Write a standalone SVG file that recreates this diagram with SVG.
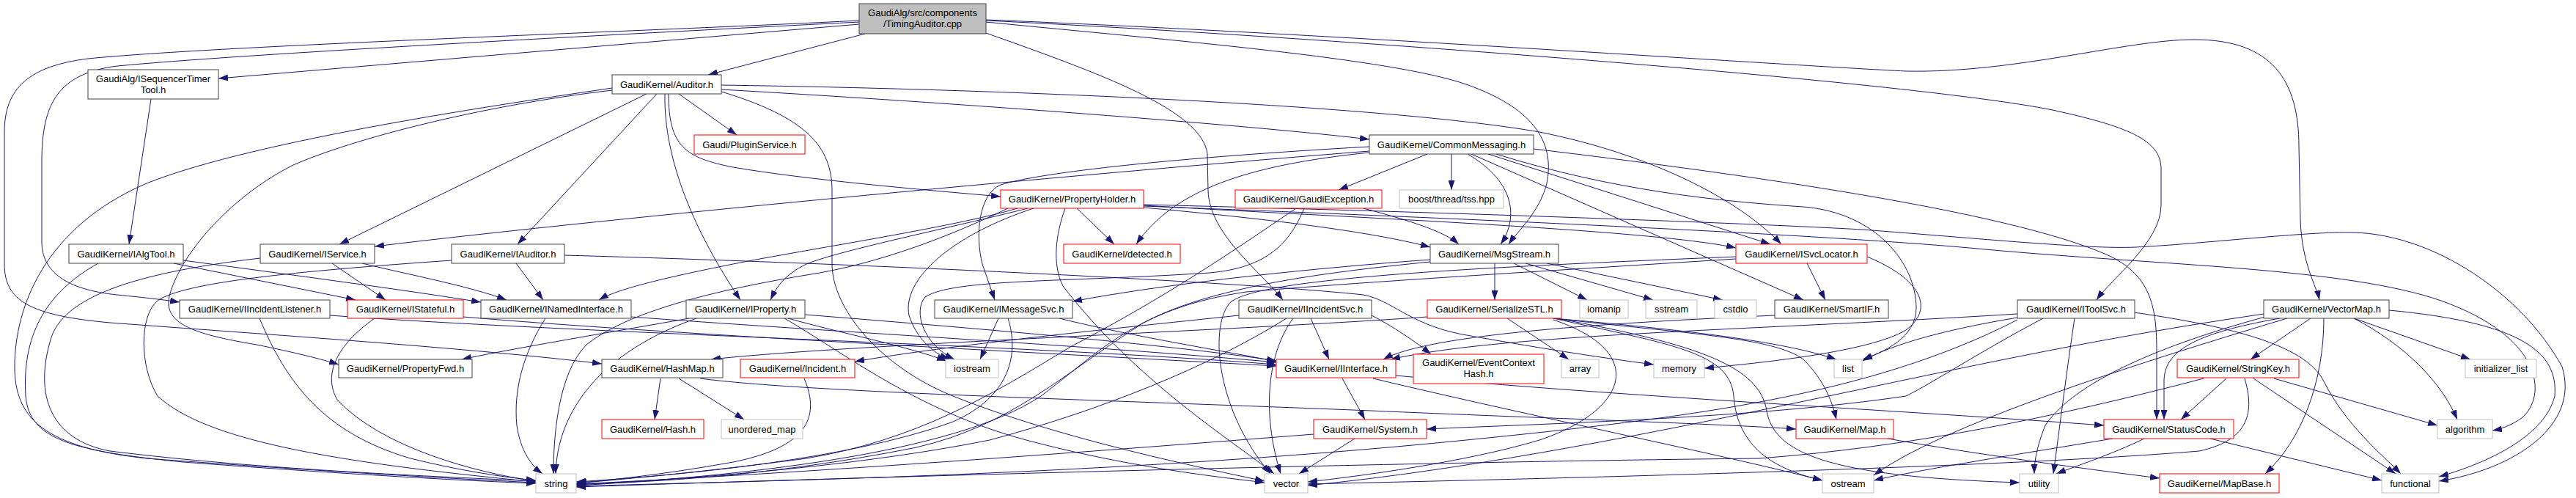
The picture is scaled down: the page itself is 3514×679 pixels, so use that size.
<svg xmlns="http://www.w3.org/2000/svg" width="3514" height="679" viewBox="0 0 3514 679">
<defs>
<marker id="ah" viewBox="0 0 13 9" refX="13" refY="4.5" markerWidth="13" markerHeight="9" markerUnits="userSpaceOnUse" orient="auto"><path d="M0,0 L13,4.5 L0,9 z" fill="#191970"/></marker>
<style>
.e path{fill:none;stroke:#191970;stroke-width:1;marker-end:url(#ah)}
rect{fill:#ffffff;stroke:#404040;stroke-width:1}
.r rect{stroke:#ff0000}
.g rect{stroke:#bfbfbf}
.root rect{fill:#bfbfbf}
text{font-family:"Liberation Sans",Arial,Helvetica,sans-serif;font-size:13px;fill:#000000;text-anchor:middle}
</style>
</defs>
<rect x="0" y="0" width="3514" height="679" style="fill:#ffffff;stroke:none"/>
<g id="edges" class="e">
<path d="M1172,33 L298,107"/>
<path d="M1180,46 L966,102"/>
<path d="M1172,28 C900,42 300,62 120,80 C40,90 6,120 6,180 L6,360 C6,410 40,430 150,440 C350,455 650,475 821,496"/>
<path d="M1172,30 C900,44 350,72 160,90 C80,100 57,140 57,220 L57,330 C57,370 90,395 160,402 C200,406 225,409 245,412"/>
<path d="M1345,45 C1500,100 1640,150 1647,210 L1648,260 C1650,320 1720,370 1750,409"/>
<path d="M1345,30 C1600,55 1900,80 2000,115 C2100,150 2120,200 2110,250 C2100,290 2070,315 2058,333"/>
<path d="M1345,28 C1800,50 2600,110 2800,150 C2900,172 2948,190 2948,230 L2948,280 C2948,330 2880,380 2860,409"/>
<path d="M1345,27 C1800,45 2450,90 2600,97 C2750,100 2900,54 2993,54 C3100,54 3136,110 3136,200 L3138,300 C3140,360 3160,390 3164,409"/>
<path d="M206,135 L176,333"/>
<path d="M984,122 C1300,140 1700,170 1868,190"/>
<path d="M984,116 C1400,122 1900,145 2100,180 C2250,210 2370,270 2430,333"/>
<path d="M896,128 L706,333"/>
<path d="M882,128 L463,333"/>
<path d="M907,128 C905,220 950,320 1010,409"/>
<path d="M926,128 L1005,184"/>
<path d="M912,128 C912,200 935,215 1000,228 C1100,245 1250,258 1365,268"/>
<path d="M984,125 C1100,160 1135,200 1135,260 L1135,360 C1135,420 1200,500 1300,540 C1450,600 1650,640 1725,656"/>
<path d="M835,120 C700,140 350,190 200,250 C60,310 20,420 20,500 C20,570 60,610 200,625 C400,640 600,652 731,658"/>
<path d="M835,123 C650,145 480,190 400,225 C320,265 250,340 232,400 C220,440 260,455 350,470 C400,480 440,490 462,497"/>
<path d="M1947,210 L1826,259"/>
<path d="M1980,210 L1980,259"/>
<path d="M2002,210 C2070,250 2070,300 2047,333"/>
<path d="M2007,210 L2460,409"/>
<path d="M2030,210 L2415,333"/>
<path d="M2092,203 C2400,240 2750,290 2880,350 C2935,378 2942,420 2942,480 L2942,572"/>
<path d="M1868,208 C1700,225 1600,260 1550,333"/>
<path d="M1868,200 C1600,215 1420,235 1365,252 C1335,265 1330,320 1340,360 L1357,409"/>
<path d="M1868,206 C1500,235 850,295 511,336"/>
<path d="M2041,210 C2200,260 2350,275 2460,282 C2560,290 2614,360 2614,420 C2614,460 2570,480 2541,490"/>
<path d="M250,355 C400,375 550,395 656,412"/>
<path d="M237,359 L485,409"/>
<path d="M134,359 C60,400 30,460 35,540 C40,600 100,615 250,630 C450,645 620,655 731,659"/>
<path d="M494,359 C560,375 640,390 691,409"/>
<path d="M453,359 L526,409"/>
<path d="M355,352 C200,370 90,400 70,460 C45,540 70,600 150,615 C350,640 600,650 731,656"/>
<path d="M704,359 L741,409"/>
<path d="M616,355 C400,370 250,385 215,410 C190,430 190,500 215,540 C280,600 450,630 731,657"/>
<path d="M770,348 C1200,360 1700,385 1860,402 C1900,410 1920,440 1990,455 C2100,475 2200,490 2256,497"/>
<path d="M450,430 C800,455 1400,470 1741,497"/>
<path d="M354,434 C390,520 440,590 560,625 C620,640 680,650 731,655"/>
<path d="M632,432 C900,455 1400,480 1741,499"/>
<path d="M511,434 C460,470 440,510 460,545 C520,610 650,645 731,656"/>
<path d="M861,432 C1100,450 1500,472 1741,494"/>
<path d="M744,434 C715,480 700,530 705,580 C710,615 725,635 740,646"/>
<path d="M1098,429 C1300,445 1600,470 1741,492"/>
<path d="M940,434 C850,450 700,475 630,490"/>
<path d="M1075,434 C1150,455 1230,470 1291,492"/>
<path d="M950,434 C820,480 760,560 758,646"/>
<path d="M1070,434 C1150,480 1250,560 1400,600 C1550,640 1680,652 1725,658"/>
<path d="M1469,284 L1520,333"/>
<path d="M1388,284 C1300,310 1100,340 1000,360 C900,380 840,395 817,409"/>
<path d="M1402,284 C1300,310 1150,340 1100,360 C1070,375 1060,390 1051,409"/>
<path d="M1375,284 C1300,320 1200,360 1100,375 C950,400 850,430 800,470 C760,510 755,600 755,646"/>
<path d="M1453,284 C1440,320 1435,360 1450,390 C1550,520 1680,600 1738,646"/>
<path d="M1560,280 C1800,295 2250,312 2368,338"/>
<path d="M1560,283 C1750,300 1880,318 1951,337"/>
<path d="M1410,284 C1300,320 1230,380 1240,430 C1250,460 1270,480 1295,490"/>
<path d="M1560,281 C2000,298 2500,320 2708,340 C2950,362 3200,365 3330,410 C3470,460 3475,540 3440,570 C3425,580 3412,585 3400,587"/>
<path d="M1560,279 C2000,290 2400,305 2540,313 C2700,325 2850,340 2913,337 C3000,333 3150,315 3211,317 C3320,320 3440,400 3495,500 C3520,580 3430,640 3327,656"/>
<path d="M1860,284 C1920,300 1970,315 1990,333"/>
<path d="M1768,284 C1700,330 1600,400 1460,473 C1350,540 1250,600 1100,625 C950,645 830,655 786,659"/>
<path d="M1779,284 C1760,330 1730,365 1650,372 C1450,385 1300,380 1262,405 C1245,425 1260,470 1302,490"/>
<path d="M1445,434 C1550,460 1680,480 1741,493"/>
<path d="M1362,434 L1337,490"/>
<path d="M1375,434 C1390,480 1380,540 1300,575 C1150,630 900,650 786,657"/>
<path d="M1788,434 L1813,490"/>
<path d="M1690,430 C1500,450 1300,470 1166,493"/>
<path d="M1871,430 C1900,445 1930,465 1952,483"/>
<path d="M1764,434 C1730,480 1720,560 1747,646"/>
<path d="M1755,434 C1650,500 1500,560 1350,600 C1150,640 900,655 786,661"/>
<path d="M1951,354 C1800,365 1600,385 1463,411"/>
<path d="M2039,359 L2039,409"/>
<path d="M2065,359 L2165,409"/>
<path d="M2081,359 L2255,409"/>
<path d="M2110,359 L2350,409"/>
<path d="M1951,357 C1800,372 1650,392 1560,440 C1450,510 1380,580 1250,610 C1050,650 880,658 786,660"/>
<path d="M2465,359 L2490,409"/>
<path d="M2368,350 C2000,365 1700,380 1676,415 C1650,450 1660,560 1733,646"/>
<path d="M2368,353 C2100,370 1850,385 1700,398 C1550,420 1500,480 1420,540 C1300,620 1000,650 786,662"/>
<path d="M2547,350 C2620,380 2640,420 2600,450 C2550,480 2400,495 2325,502"/>
<path d="M2421,430 C2200,440 1950,455 1887,490"/>
<path d="M2752,428 C2400,450 2050,455 1897,490"/>
<path d="M2787,434 C2700,480 2640,520 2600,540 C2400,570 2100,578 1946,585"/>
<path d="M2752,433 C2650,450 2580,470 2541,492"/>
<path d="M2911,426 C3080,450 3150,480 3170,520 C3200,580 3250,620 3275,646"/>
<path d="M2752,436 C2550,540 2300,570 2000,600 C1500,650 1000,656 786,663"/>
<path d="M2830,434 C2820,500 2810,580 2801,646"/>
<path d="M1947,432 C1700,450 1150,470 970,490"/>
<path d="M2056,434 L2140,490"/>
<path d="M2119,434 C2300,450 2430,465 2505,490"/>
<path d="M2119,434 C2300,455 2420,460 2460,490 C2490,520 2500,550 2505,572"/>
<path d="M2119,434 C2280,470 2360,480 2365,540 C2370,610 2420,640 2486,655"/>
<path d="M2123,434 C2320,470 2400,500 2410,560 C2420,620 2500,650 2755,658"/>
<path d="M2119,436 C2250,480 2220,560 2100,600 C2000,630 1850,650 1784,657"/>
<path d="M901,516 L893,572"/>
<path d="M926,516 L1015,572"/>
<path d="M955,516 C1100,535 1500,545 1870,560 C2100,570 2350,578 2450,585"/>
<path d="M1097,516 C1120,570 1100,610 1000,630 C900,648 820,656 787,658"/>
<path d="M1831,516 L1862,572"/>
<path d="M1873,516 C2100,570 2350,620 2486,655"/>
<path d="M1904,512 C2200,540 2600,560 2870,580"/>
<path d="M1792,592 C1500,615 1100,645 786,660"/>
<path d="M1848,598 L1772,646"/>
<path d="M2575,598 C2700,620 2850,640 2946,652"/>
<path d="M2882,598 C2750,620 2620,640 2556,655"/>
<path d="M2925,598 C2880,620 2830,636 2805,646"/>
<path d="M3015,598 L3249,655"/>
<path d="M3037,516 L2975,572"/>
<path d="M3102,516 L3325,580"/>
<path d="M3074,516 L3268,646"/>
<path d="M3006,516 C2800,570 2600,610 2400,625 C1900,630 1200,650 786,664"/>
<path d="M3062,516 C3075,560 3070,600 3000,615 C2700,640 2000,655 1784,660"/>
<path d="M3110,434 C2990,455 2952,480 2952,520 L2952,572"/>
<path d="M3152,434 L3070,490"/>
<path d="M3170,434 C3170,520 3140,600 3090,646"/>
<path d="M3211,434 L3370,490"/>
<path d="M3211,434 C3280,470 3330,520 3352,572"/>
<path d="M3259,423 C3440,440 3490,480 3485,540 C3470,600 3380,635 3327,650"/>
<path d="M3088,428 C2800,470 2600,520 2300,580 C2000,640 1850,655 1784,662"/>
<path d="M3120,434 C2900,500 2650,580 2556,648"/>
<path d="M3090,432 C2950,470 2830,520 2790,580 C2778,610 2775,630 2775,646"/>
</g>
<g id="node-TimingAuditor" class="root"><rect x="1172" y="5" width="173" height="41"/><text x="1258.5" y="21.5">GaudiAlg/src/components</text><text x="1258.5" y="36.5">/TimingAuditor.cpp</text></g>
<g id="node-ISequencerTimerTool"><rect x="120" y="95" width="178" height="40"/><text x="209" y="111.5">GaudiAlg/ISequencerTimer</text><text x="209" y="126.5">Tool.h</text></g>
<g id="node-Auditor"><rect x="835" y="102" width="149" height="26"/><text x="909.5" y="119.5">GaudiKernel/Auditor.h</text></g>
<g id="node-PluginService" class="r"><rect x="947" y="184" width="151" height="26"/><text x="1022.5" y="201.5">Gaudi/PluginService.h</text></g>
<g id="node-CommonMessaging"><rect x="1868" y="184" width="224" height="26"/><text x="1980" y="201.5">GaudiKernel/CommonMessaging.h</text></g>
<g id="node-IAlgTool"><rect x="94" y="333" width="156" height="26"/><text x="172" y="350.5">GaudiKernel/IAlgTool.h</text></g>
<g id="node-IService"><rect x="355" y="333" width="156" height="26"/><text x="433" y="350.5">GaudiKernel/IService.h</text></g>
<g id="node-IAuditor"><rect x="616" y="333" width="154" height="26"/><text x="693" y="350.5">GaudiKernel/IAuditor.h</text></g>
<g id="node-PropertyHolder" class="r"><rect x="1365" y="259" width="195" height="25"/><text x="1462.5" y="276">GaudiKernel/PropertyHolder.h</text></g>
<g id="node-GaudiException" class="r"><rect x="1685" y="259" width="200" height="25"/><text x="1785" y="276">GaudiKernel/GaudiException.h</text></g>
<g id="node-tss" class="g"><rect x="1909" y="259" width="142" height="25"/><text x="1980" y="276">boost/thread/tss.hpp</text></g>
<g id="node-detected" class="r"><rect x="1451" y="333" width="159" height="26"/><text x="1530.5" y="350.5">GaudiKernel/detected.h</text></g>
<g id="node-MsgStream"><rect x="1951" y="333" width="175" height="26"/><text x="2038.5" y="350.5">GaudiKernel/MsgStream.h</text></g>
<g id="node-ISvcLocator" class="r"><rect x="2368" y="333" width="179" height="26"/><text x="2457.5" y="350.5">GaudiKernel/ISvcLocator.h</text></g>
<g id="node-IIncidentListener"><rect x="245" y="409" width="205" height="25"/><text x="347.5" y="426">GaudiKernel/IIncidentListener.h</text></g>
<g id="node-IStateful" class="r"><rect x="474" y="409" width="158" height="25"/><text x="553" y="426">GaudiKernel/IStateful.h</text></g>
<g id="node-INamedInterface"><rect x="656" y="409" width="205" height="25"/><text x="758.5" y="426">GaudiKernel/INamedInterface.h</text></g>
<g id="node-IProperty"><rect x="936" y="409" width="162" height="25"/><text x="1017" y="426">GaudiKernel/IProperty.h</text></g>
<g id="node-IMessageSvc"><rect x="1275" y="409" width="188" height="25"/><text x="1369" y="426">GaudiKernel/IMessageSvc.h</text></g>
<g id="node-IIncidentSvc"><rect x="1690" y="409" width="181" height="25"/><text x="1780.5" y="426">GaudiKernel/IIncidentSvc.h</text></g>
<g id="node-SerializeSTL" class="r"><rect x="1947" y="409" width="183" height="25"/><text x="2038.5" y="426">GaudiKernel/SerializeSTL.h</text></g>
<g id="node-iomanip" class="g"><rect x="2155" y="409" width="66" height="25"/><text x="2188" y="426">iomanip</text></g>
<g id="node-sstream" class="g"><rect x="2245" y="409" width="70" height="25"/><text x="2280" y="426">sstream</text></g>
<g id="node-cstdio" class="g"><rect x="2339" y="409" width="57" height="25"/><text x="2367.5" y="426">cstdio</text></g>
<g id="node-SmartIF"><rect x="2421" y="409" width="155" height="25"/><text x="2498.5" y="426">GaudiKernel/SmartIF.h</text></g>
<g id="node-IToolSvc"><rect x="2752" y="409" width="160" height="25"/><text x="2832" y="426">GaudiKernel/IToolSvc.h</text></g>
<g id="node-VectorMap"><rect x="3088" y="409" width="171" height="25"/><text x="3173.5" y="426">GaudiKernel/VectorMap.h</text></g>
<g id="node-PropertyFwd"><rect x="462" y="490" width="182" height="25"/><text x="553" y="507">GaudiKernel/PropertyFwd.h</text></g>
<g id="node-HashMap"><rect x="821" y="490" width="165" height="25"/><text x="903.5" y="507">GaudiKernel/HashMap.h</text></g>
<g id="node-Incident" class="r"><rect x="1010" y="490" width="156" height="25"/><text x="1088" y="507">GaudiKernel/Incident.h</text></g>
<g id="node-iostream" class="g"><rect x="1290" y="490" width="72" height="25"/><text x="1326" y="507">iostream</text></g>
<g id="node-IInterface" class="r"><rect x="1741" y="490" width="163" height="25"/><text x="1822.5" y="507">GaudiKernel/IInterface.h</text></g>
<g id="node-EventContextHash" class="r"><rect x="1928" y="483" width="178" height="40"/><text x="2017" y="498.5">GaudiKernel/EventContext</text><text x="2017" y="513.5">Hash.h</text></g>
<g id="node-array" class="g"><rect x="2130" y="490" width="51" height="25"/><text x="2155.5" y="507">array</text></g>
<g id="node-memory" class="g"><rect x="2256" y="490" width="69" height="25"/><text x="2290.5" y="507">memory</text></g>
<g id="node-list" class="g"><rect x="2502" y="490" width="38" height="25"/><text x="2521" y="507">list</text></g>
<g id="node-StringKey" class="r"><rect x="2970" y="490" width="166" height="25"/><text x="3053" y="507">GaudiKernel/StringKey.h</text></g>
<g id="node-initializer_list" class="g"><rect x="3363" y="490" width="97" height="25"/><text x="3411.5" y="507">initializer_list</text></g>
<g id="node-Hash" class="r"><rect x="821" y="572" width="139" height="26"/><text x="890.5" y="589.5">GaudiKernel/Hash.h</text></g>
<g id="node-unordered_map" class="g"><rect x="984" y="572" width="111" height="26"/><text x="1039.5" y="589.5">unordered_map</text></g>
<g id="node-System" class="r"><rect x="1792" y="572" width="154" height="26"/><text x="1869" y="589.5">GaudiKernel/System.h</text></g>
<g id="node-Map" class="r"><rect x="2450" y="572" width="133" height="26"/><text x="2516.5" y="589.5">GaudiKernel/Map.h</text></g>
<g id="node-StatusCode" class="r"><rect x="2870" y="572" width="177" height="26"/><text x="2958.5" y="589.5">GaudiKernel/StatusCode.h</text></g>
<g id="node-algorithm" class="g"><rect x="3325" y="572" width="75" height="26"/><text x="3362.5" y="589.5">algorithm</text></g>
<g id="node-string" class="g"><rect x="731" y="646" width="55" height="26"/><text x="758.5" y="663.5">string</text></g>
<g id="node-vector" class="g"><rect x="1725" y="646" width="59" height="26"/><text x="1754.5" y="663.5">vector</text></g>
<g id="node-ostream" class="g"><rect x="2486" y="646" width="70" height="26"/><text x="2521" y="663.5">ostream</text></g>
<g id="node-utility" class="g"><rect x="2755" y="646" width="53" height="26"/><text x="2781.5" y="663.5">utility</text></g>
<g id="node-MapBase" class="r"><rect x="2946" y="646" width="163" height="26"/><text x="3027.5" y="663.5">GaudiKernel/MapBase.h</text></g>
<g id="node-functional" class="g"><rect x="3249" y="646" width="78" height="26"/><text x="3288" y="663.5">functional</text></g>
</svg>
